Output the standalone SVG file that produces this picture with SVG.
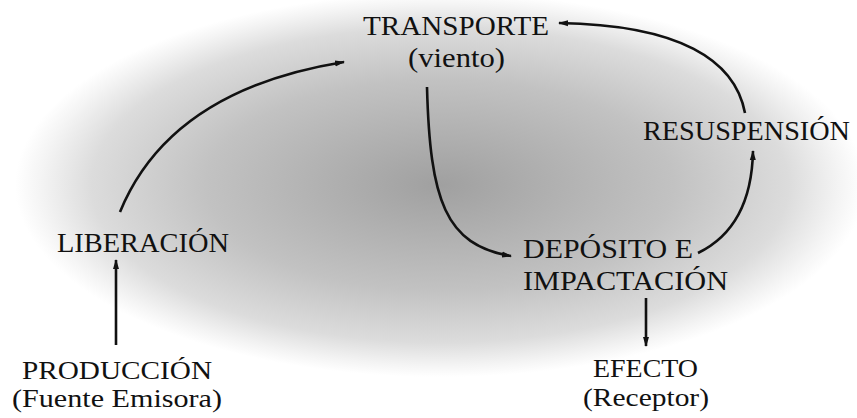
<svg xmlns="http://www.w3.org/2000/svg" width="857" height="418" viewBox="0 0 857 418">
<defs>
<radialGradient id="bg" gradientUnits="userSpaceOnUse" cx="0" cy="0" r="1" gradientTransform="translate(440 185) scale(425 192)">
<stop offset="0" stop-color="#a0a0a0"/>
<stop offset="0.55" stop-color="#c2c2c2"/>
<stop offset="0.82" stop-color="#dcdcdc"/>
<stop offset="0.94" stop-color="#f4f4f4"/>
<stop offset="1" stop-color="#ffffff"/>
</radialGradient>
<marker id="ah" markerWidth="10" markerHeight="8" refX="9" refY="4" orient="auto" markerUnits="userSpaceOnUse">
<path d="M0,1 L10,4 L0,7 Z" fill="#111"/>
</marker>
<style>
text{font-family:"Liberation Serif","Times New Roman",serif;font-size:27px;fill:#111}
.s{font-size:25px}
.c{fill:none;stroke:#111;stroke-width:2.6;marker-end:url(#ah)}
</style>
</defs>
<rect width="857" height="418" fill="#fff"/>
<rect width="857" height="418" fill="url(#bg)"/>
<g id="connectors">
<path class="c" d="M116,345 L116,260"/>
<path class="c" d="M120,212 Q170,90 344,62"/>
<path class="c" d="M427,87 C430,200 445,245 511,256"/>
<path class="c" d="M698,253 C735,235 752,200 753,151"/>
<path class="c" d="M745,113 C735,60 680,25 559,23"/>
<path class="c" d="M646,298 L646,346"/>
</g>
<g id="transporte">
<text x="363" y="35" textLength="186" lengthAdjust="spacingAndGlyphs">TRANSPORTE</text>
<text x="408" y="67" textLength="97" lengthAdjust="spacingAndGlyphs">(viento)</text>
</g>
<g id="resuspension">
<text x="643" y="140" textLength="207" lengthAdjust="spacingAndGlyphs">RESUSPENSIÓN</text>
</g>
<g id="liberacion">
<text x="57" y="252" textLength="172" lengthAdjust="spacingAndGlyphs">LIBERACIÓN</text>
</g>
<g id="deposito">
<text x="523" y="258" textLength="170" lengthAdjust="spacingAndGlyphs">DEPÓSITO E</text>
<text x="523" y="290" textLength="205" lengthAdjust="spacingAndGlyphs">IMPACTACIÓN</text>
</g>
<g id="produccion">
<text class="s" x="22" y="379" textLength="190" lengthAdjust="spacingAndGlyphs">PRODUCCIÓN</text>
<text class="s" x="12" y="407" textLength="210" lengthAdjust="spacingAndGlyphs">(Fuente Emisora)</text>
</g>
<g id="efecto">
<text class="s" x="593" y="377" textLength="105" lengthAdjust="spacingAndGlyphs">EFECTO</text>
<text class="s" x="583" y="406" textLength="126" lengthAdjust="spacingAndGlyphs">(Receptor)</text>
</g>
</svg>
